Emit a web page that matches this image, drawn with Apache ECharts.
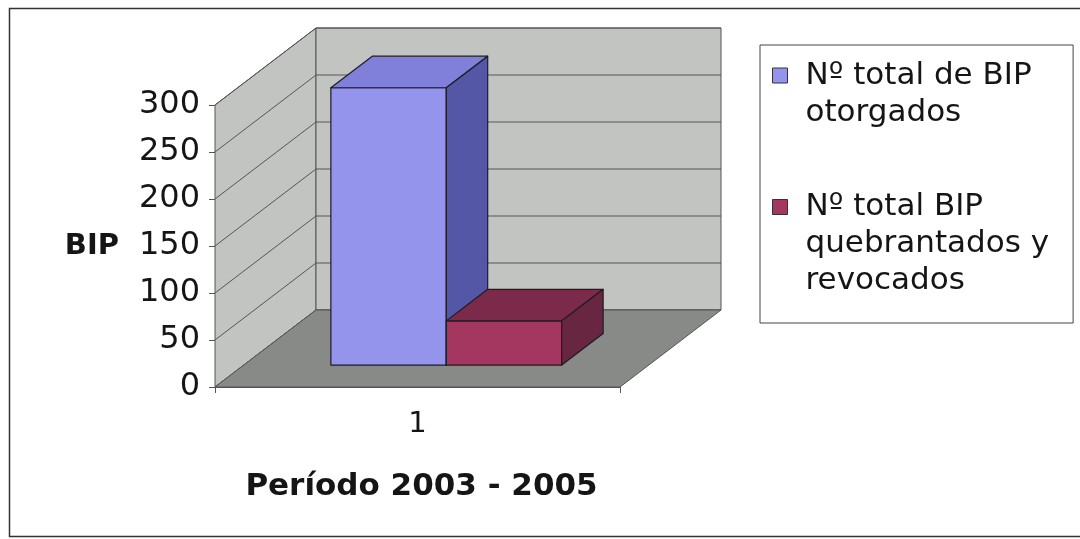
<!DOCTYPE html>
<html>
<head>
<meta charset="utf-8">
<script src="https://cdn.jsdelivr.net/npm/echarts@6/dist/echarts.min.js"></script>
<style>
html,body{margin:0;padding:0;background:#fff}
#c{width:1080px;height:539px}
</style>
</head>
<body>
<div id="c"></div>
<script>
// ---- data ----
const categories = ['1'];
const seriesNames = ['Nº total de BIP\notorgados', 'Nº total BIP\nquebrantados y\nrevocados'];
const otorgados = [295];
const quebrantados = [47];
const yTicks = [0, 50, 100, 150, 200, 250, 300];
const xAxisTitle = 'Período 2003 - 2005';
const yAxisTitle = 'BIP';

// ---- style ----
const FONT = 'DejaVu Sans';
const TXT = '#151515';
const DX = 101, DY = -77;          // depth vector of the 3D box
const F0 = 0.285, F1 = 0.41;       // bar depth start / thickness (fraction of depth)
const BAR_W = 0.285;               // bar width as fraction of category band
const WALL = '#c2c4c2', FLOOR = '#888a88', EDGE = '#555', GRID = '#555';
const frontC = ['#9494EC', '#A3375F'];
const topC = ['#8080DA', '#7B2A4A'];
const sideC = ['#5357A6', '#682640'];
const BAR_EDGE = '#1c1c24';

const legendIcons = [
  'path://M0,0l0.01,0M28,89l-0.01,0M0,18.5h15v15h-15z',
  'path://M0,0l0.01,0M28,89l-0.01,0M0,0h15v15h-15z'
];

function wallsRender(params, api) {
  const cs = params.coordSys;
  const x0 = cs.x, x1 = cs.x + cs.width, yT = cs.y, yB = cs.y + cs.height;
  const ch = [];
  ch.push({type: 'polygon', shape: {points: [[x0, yB], [x0, yT], [x0 + DX, yT + DY], [x0 + DX, yB + DY]]},
    style: {fill: WALL, stroke: EDGE, lineWidth: 1}});
  ch.push({type: 'polygon', shape: {points: [[x0 + DX, yT + DY], [x1 + DX, yT + DY], [x1 + DX, yB + DY], [x0 + DX, yB + DY]]},
    style: {fill: WALL, stroke: EDGE, lineWidth: 1}});
  yTicks.forEach(function (v) {
    const y = api.coord([0, v])[1];
    ch.push({type: 'polyline', shape: {points: [[x0, y], [x0 + DX, y + DY], [x1 + DX, y + DY]]},
      style: {fill: 'none', stroke: GRID, lineWidth: 1}});
  });
  ch.push({type: 'polygon', shape: {points: [[x0, yB], [x1, yB], [x1 + DX, yB + DY], [x0 + DX, yB + DY]]},
    style: {fill: FLOOR, stroke: EDGE, lineWidth: 1}});
  return {type: 'group', children: ch};
}

function barRender(s) {
  return function (params, api) {
    const ci = api.value(0), v = api.value(1);
    const base = api.coord([ci, 0]);
    const top = api.coord([ci, v]);
    const band = api.size([1, 0])[0];
    const bw = band * BAR_W;
    const x0 = base[0] - bw + s * bw + DX * F0;
    const yb = base[1] + DY * F0;
    const yt = top[1] + DY * F0;
    const dx = DX * F1, dy = DY * F1;
    const st = {stroke: BAR_EDGE, lineWidth: 1.2, lineJoin: 'round'};
    return {type: 'group', children: [
      {type: 'rect', shape: {x: x0, y: yt, width: bw, height: yb - yt}, style: Object.assign({fill: frontC[s]}, st)},
      {type: 'polygon', shape: {points: [[x0, yt], [x0 + bw, yt], [x0 + bw + dx, yt + dy], [x0 + dx, yt + dy]]}, style: Object.assign({fill: topC[s]}, st)},
      {type: 'polygon', shape: {points: [[x0 + bw, yt], [x0 + bw + dx, yt + dy], [x0 + bw + dx, yb + dy], [x0 + bw, yb]]}, style: Object.assign({fill: sideC[s]}, st)}
    ]};
  };
}

const chart = echarts.init(document.getElementById('c'), null, {renderer: 'canvas'});
chart.setOption({
  backgroundColor: '#fff',
  animation: false,
  graphic: [{
    type: 'rect', silent: true,
    shape: {x: 9.5, y: 8.5, width: 1080, height: 528},
    style: {fill: 'none', stroke: '#333', lineWidth: 1.5}
  }],
  grid: {left: 215, right: 460, top: 105, bottom: 152},
  legend: {
    orient: 'vertical', left: 760, top: 45,
    padding: [4, 24, 23.5, 12],
    itemWidth: 28, itemHeight: 89, itemGap: 49.5,
    symbolKeepAspect: false,
    borderColor: '#444', borderWidth: 1, backgroundColor: '#fff',
    selectedMode: false,
    textStyle: {fontFamily: FONT, fontSize: 31, lineHeight: 37, color: TXT},
    itemStyle: {borderColor: '#333', borderWidth: 1},
    data: seriesNames.map(function (n, i) { return {name: n, icon: legendIcons[i]}; })
  },
  xAxis: {
    type: 'category', data: categories, boundaryGap: true,
    axisLine: {show: true, lineStyle: {color: EDGE, width: 1}},
    axisTick: {show: true, length: 6, interval: 0, lineStyle: {color: EDGE}},
    axisLabel: {fontFamily: FONT, fontSize: 29, color: TXT, margin: 23},
    splitLine: {show: false},
    name: xAxisTitle, nameLocation: 'middle', nameGap: 84,
    nameTextStyle: {fontFamily: FONT, fontSize: 31, fontWeight: 'bold', color: TXT, padding: [0, 0, 0, 8]}
  },
  yAxis: {
    type: 'value', min: yTicks[0], max: yTicks[yTicks.length - 1], interval: yTicks[1] - yTicks[0],
    axisLine: {show: true, lineStyle: {color: EDGE, width: 1}},
    axisTick: {show: true, length: 6, lineStyle: {color: EDGE}},
    axisLabel: {fontFamily: FONT, fontSize: 32, color: TXT, margin: 15},
    splitLine: {show: false},
    name: yAxisTitle, nameLocation: 'middle', nameGap: 96, nameRotate: 0,
    nameTextStyle: {fontFamily: FONT, fontSize: 29, fontWeight: 'bold', color: TXT}
  },
  series: [
    {type: 'custom', name: 'walls', silent: true, clip: false, z: 1,
      renderItem: wallsRender, data: [[0, 0]], tooltip: {show: false}},
    {type: 'custom', name: seriesNames[0], clip: false, z: 3,
      itemStyle: {color: frontC[0]},
      renderItem: barRender(0), data: categories.map(function (c, i) { return [i, otorgados[i]]; })},
    {type: 'custom', name: seriesNames[1], clip: false, z: 4,
      itemStyle: {color: frontC[1]},
      renderItem: barRender(1), data: categories.map(function (c, i) { return [i, quebrantados[i]]; })}
  ]
});
</script>
</body>
</html>
